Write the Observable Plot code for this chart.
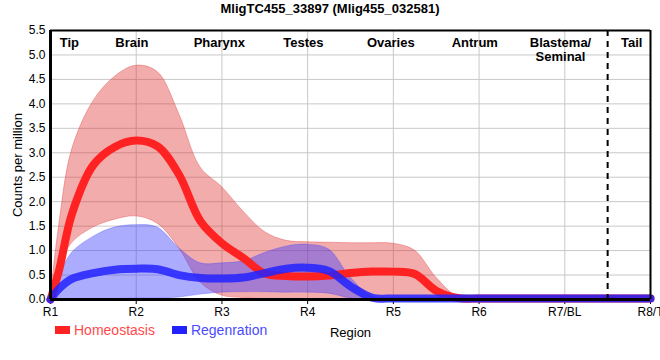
<!DOCTYPE html>
<html><head><meta charset="utf-8">
<script src="https://cdn.jsdelivr.net/npm/d3@7"></script>
<script src="https://cdn.jsdelivr.net/npm/@observablehq/plot@0.6"></script>
<style>
body{margin:0;background:#fff;font-family:"Liberation Sans",Arial,sans-serif;}
#wrap{position:relative;width:660px;height:360px;}
#title{position:absolute;top:0;left:0;width:660px;text-align:center;font-weight:bold;font-size:13px;line-height:18px;}
#chart{position:absolute;top:20px;left:0;}
#legend{position:absolute;top:322px;left:55px;font-size:14px;display:flex;align-items:center;}
.sw{display:inline-block;width:15px;height:8px;margin-right:4px;}
</style></head>
<body><div id="wrap"><div id="title"></div><div id="chart"></div><div id="legend"></div></div>
<script>
const titleText = "MligTC455_33897 (Mlig455_032581)";
const tickPos = [1,2,3,4,5,6,7,8];
const tickLabels = ["R1","R2","R3","R4","R5","R6","R7/BL","R8/T"];
const yTicks = [0,0.5,1,1.5,2,2.5,3,3.5,4,4.5,5,5.5];
const regionNames = ["Tip","Brain","Pharynx","Testes","Ovaries","Antrum","Blastema/\nSeminal","Tail"];
const regionX = [1.22,1.95,2.97,3.95,4.97,5.95,6.95,7.78];
const seriesNames = ["Homeostasis","Regenration"];
const axisTitles = ["Region","Counts per million"];
const xs =        [1, 1.1, 1.25, 1.5, 1.75, 2, 2.25, 2.5, 2.75, 3, 3.25, 3.5, 3.75, 4, 4.25, 4.5, 4.75, 5, 5.25, 5.5, 5.75, 6, 6.5, 7, 7.5, 8];
const homeoMean = [0, 0.6, 1.75, 2.75, 3.12, 3.25, 3.13, 2.55, 1.6, 1.15, 0.85, 0.53, 0.48, 0.47, 0.49, 0.54, 0.57, 0.57, 0.52, 0.18, 0.03, 0.02, 0.02, 0.02, 0.02, 0.02];
const homeoHi =   [0, 1.5, 3.05, 4.05, 4.55, 4.78, 4.65, 3.8, 2.7, 2.3, 1.8, 1.38, 1.2, 1.17, 1.16, 1.15, 1.15, 1.14, 1.0, 0.45, 0.06, 0.04, 0.03, 0.03, 0.03, 0.03];
const homeoLo =   [0, 0.65, 1.15, 1.47, 1.63, 1.7, 1.55, 1.05, 0.35, 0.08, 0.03, 0, 0, 0, 0, 0, 0, 0, 0, 0, 0, 0, 0, 0, 0, 0];
const regenMean = [0, 0.22, 0.42, 0.54, 0.61, 0.63, 0.62, 0.5, 0.44, 0.43, 0.45, 0.54, 0.63, 0.65, 0.58, 0.27, 0.04, 0.02, 0.02, 0.02, 0.02, 0.02, 0.02, 0.02, 0.02, 0.02];
const regenHi =   [0, 0.45, 0.95, 1.28, 1.47, 1.52, 1.47, 1.05, 0.74, 0.74, 0.78, 0.95, 1.08, 1.12, 1.02, 0.45, 0.06, 0.03, 0.03, 0.03, 0.03, 0.03, 0.03, 0.03, 0.03, 0.03];
const regenLo =   [0, 0, 0, 0, 0.01, 0.02, 0.02, 0.04, 0.1, 0.14, 0.15, 0.15, 0.14, 0.14, 0.12, 0.02, -0.03, -0.04, -0.04, -0.04, -0.03, -0.02, -0.01, 0, 0, 0];

const homeo = xs.map((x,i)=>({x, m:homeoMean[i], lo:homeoLo[i], hi:homeoHi[i]}));
const regen = xs.map((x,i)=>({x, m:regenMean[i], lo:regenLo[i], hi:regenHi[i]}));
const regions = regionNames.map((n,i)=>({n, x:regionX[i]}));
const RED = "#ff2222", BLUE = "#2222ff";
const CURVE = "catmull-rom";

document.getElementById("title").textContent = titleText;

const chart = Plot.plot({
  width: 660, height: 340,
  marginLeft: 50, marginRight: 10, marginTop: 10, marginBottom: 61,
  style: {fontFamily: "'Liberation Sans', Arial, sans-serif", fontSize: "12px", background: "#fff", color: "#000", overflow: "visible"},
  x: {domain: [1, 8], ticks: tickPos, tickFormat: d => tickLabels[tickPos.indexOf(d)], tickSize: 5, tickPadding: 3, label: null},
  y: {domain: [0, 5.5], ticks: yTicks, tickFormat: d3.format(".1f"), tickSize: 0, tickPadding: 5, label: null},
  marks: [
    Plot.ruleX(tickPos, {stroke: "#c8c8c8", strokeWidth: 1}),
    Plot.ruleY(yTicks, {stroke: "#c8c8c8", strokeWidth: 1}),
    Plot.areaY(homeo, {x: "x", y1: "lo", y2: "hi", fill: "#e03030", fillOpacity: 0.4, stroke: "#e03030", strokeOpacity: 0.35, strokeWidth: 1, curve: CURVE}),
    Plot.areaY(regen, {x: "x", y1: "lo", y2: "hi", fill: "#3a3aff", fillOpacity: 0.42, stroke: "#3a3aff", strokeOpacity: 0.3, strokeWidth: 1, curve: CURVE}),
    Plot.lineY(homeo, {x: "x", y: "m", stroke: RED, strokeWidth: 8, curve: CURVE}),
    Plot.lineY(regen, {x: "x", y: "m", stroke: BLUE, strokeWidth: 8, strokeOpacity: 0.85, curve: CURVE}),
    Plot.ruleX([7.5], {stroke: "#000", strokeWidth: 2, strokeDasharray: "6,5"}),
    Plot.ruleY([5.5], {stroke: "#000", strokeWidth: 2}),
    Plot.ruleX([8], {stroke: "#000", strokeWidth: 2}),
    Plot.ruleY([0], {stroke: "#000", strokeWidth: 3}),
    Plot.ruleX([1], {stroke: "#000", strokeWidth: 3}),
    Plot.text(regions, {x: "x", y: 5.5, text: "n", dy: 6, lineAnchor: "top", lineHeight: 1.1, fontWeight: "bold", fontSize: 13, fill: "#000"}),
    Plot.text([axisTitles[0]], {x: 4.5, y: 0, text: d => d, dy: 33, lineAnchor: "middle", fontSize: 13, fill: "#000"}),
    Plot.text([axisTitles[1]], {x: 1, y: 2.75, text: d => d, dx: -33, rotate: -90, fontSize: 13, fill: "#000"})
  ]
});
document.getElementById("chart").appendChild(chart);

const leg = document.getElementById("legend");
[[seriesNames[0], RED, "#ff4a4a"], [seriesNames[1], BLUE, "#4a4aff"]].forEach(([n, c, tc], i) => {
  const item = document.createElement("span");
  item.style.cssText = "display:inline-flex;align-items:center;margin-right:" + (i === 0 ? "17px" : "0");
  item.innerHTML = `<span class="sw" style="background:${c}"></span><span style="color:${tc}">${n}</span>`;
  leg.appendChild(item);
});
</script></body></html>
